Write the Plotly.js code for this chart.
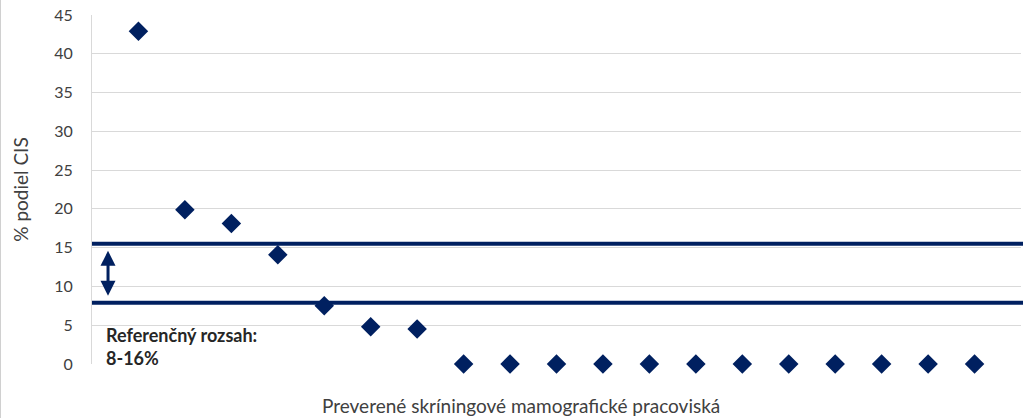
<!DOCTYPE html>
<html>
<head>
<meta charset="utf-8">
<script src="https://cdn.plot.ly/plotly-3.0.1.min.js"></script>
<style>
html,body{margin:0;padding:0;background:#fff;}
#chart{width:1023px;height:418px;box-sizing:border-box;border-left:1px solid #d0d0d0;}
</style>
</head>
<body>
<div id="chart"></div>
<script>
// Data
const sites = [1,2,3,4,5,6,7,8,9,10,11,12,13,14,15,16,17,18,19];
const cisShare = [42.9, 19.9, 18.1, 14.1, 7.5, 4.8, 4.5, 0, 0, 0, 0, 0, 0, 0, 0, 0, 0, 0, 0];
const refUpper = 15.5;
const refLower = 7.9;
const yTicks = [0,5,10,15,20,25,30,35,40,45];
const refLabel = "Referenčný rozsah:<br>8-16%";
const xTitle = "Preverené skríningové mamografické pracoviská";
const yTitle = "% podiel CIS";

const navy = "#002060";
const font = "Lato, 'Open Sans', sans-serif";

const trace = {
  x: sites, y: cisShare, type: "scatter", mode: "markers",
  marker: {symbol: "diamond", size: 15, color: navy},
  hoverinfo: "skip", cliponaxis: false
};

const layout = {
  width: 1022, height: 418,
  margin: {l: 91, r: 2, t: 15, b: 54},
  paper_bgcolor: "#fff", plot_bgcolor: "#fff",
  showlegend: false,
  font: {family: font, color: "#595959", size: 16},
  xaxis: {
    range: [0, 20], showgrid: false, zeroline: false, showticklabels: false,
    showline: false, ticks: ""
  },
  yaxis: {
    range: [0, 45], tickvals: yTicks, ticktext: yTicks.map(String),
    showgrid: true, gridcolor: "#d9d9d9", gridwidth: 1,
    zeroline: false, showline: true, linecolor: "#d9d9d9", linewidth: 1,
    ticks: "", ticklabelstandoff: 15,
    tickfont: {family: font, size: 16, color: "#404040"},
    title: {text: yTitle, font: {family: font, size: 19, color: "#404040"}, standoff: 20}
  },
  shapes: [
    {type: "line", xref: "paper", x0: 0, x1: 1.01, yref: "y", y0: refUpper, y1: refUpper,
     line: {color: navy, width: 4}},
    {type: "line", xref: "paper", x0: 0, x1: 1.01, yref: "y", y0: refLower, y1: refLower,
     line: {color: navy, width: 4}}
  ],
  annotations: [
    {xref: "x", yref: "y", x: 0.345, y: refUpper - 0.9, axref: "x", ayref: "y",
     ax: 0.345, ay: refLower + 0.7, text: "", showarrow: true,
     arrowside: "end+start", arrowhead: 2, arrowsize: 1, arrowwidth: 3, arrowcolor: navy},
    {xref: "x", yref: "y", x: 0.26, y: 2.3, xanchor: "left", yanchor: "middle", align: "left",
     text: refLabel, showarrow: false,
     font: {family: font, size: 18, color: "#262626", weight: "bold"}},
    {xref: "paper", yref: "paper", x: 0.462, y: 0, yshift: -41, xanchor: "center", yanchor: "middle",
     text: xTitle, showarrow: false,
     font: {family: font, size: 19, color: "#404040"}}
  ]
};

Plotly.newPlot("chart", [trace], layout, {displayModeBar: false, staticPlot: true});
</script>
</body>
</html>
